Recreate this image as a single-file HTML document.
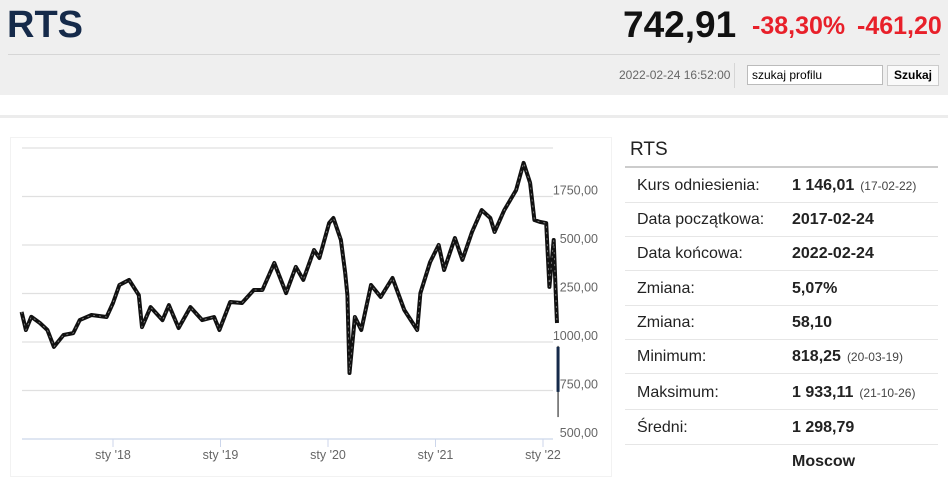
<!DOCTYPE html>
<html><head><meta charset="utf-8">
<style>
body{margin:0;width:948px;height:472px;overflow:hidden;background:#fff;font-family:"Liberation Sans",sans-serif;position:relative}
.abs{position:absolute}
#hdr{left:0;top:0;width:948px;height:95px;background:#efefef}
.row{position:absolute;left:625px;width:313px;height:34px;border-bottom:1px solid #e6e6e6}
.row .l{position:absolute;left:12px;top:9px;font-size:16px;color:#222}
.row .v{position:absolute;left:167px;top:9px;font-size:16px;font-weight:bold;color:#222}
.row .v small{font-weight:normal;font-size:12px;color:#444;margin-left:6px}
</style></head><body>
<div id="hdr" class="abs"></div>
<div class="abs" style="left:7px;top:4px;font-size:38px;font-weight:bold;color:#152a4a">RTS</div>
<div class="abs" style="left:623px;top:4px;font-size:37px;font-weight:bold;color:#111">742,91</div>
<div class="abs" style="left:752px;top:12px;font-size:25px;font-weight:bold;color:#e8202a">-38,30%</div>
<div class="abs" style="left:857px;top:12px;font-size:25px;font-weight:bold;color:#e8202a">-461,20</div>
<div class="abs" style="left:8px;top:54px;width:932px;height:1px;background:#d6d6d6"></div>
<div class="abs" style="left:619px;top:68px;font-size:12px;color:#666">2022-02-24 16:52:00</div>
<div class="abs" style="left:734px;top:63px;width:1px;height:25px;background:#d6d6d6"></div>
<div class="abs" style="left:747px;top:65px;height:20px;background:#fff;border:1px solid #bbb;font-size:12px;line-height:18px;padding-left:4px;box-sizing:border-box;width:136px">szukaj profilu</div>
<div class="abs" style="left:887px;top:65px;width:52px;height:21px;background:#fafafa;border:1px solid #ccc;box-sizing:border-box;font-size:12px;font-weight:bold;text-align:center;line-height:19px">Szukaj</div>
<div class="abs" style="left:0;top:115px;width:948px;height:3px;background:#ececec"></div>
<div class="abs" style="left:10px;top:137px;width:602px;height:340px;border:1px solid #f2f2f2;box-sizing:border-box"></div>

<svg class="abs" style="left:0;top:0" width="620" height="472" id="chart"></svg>

<div class="abs" style="left:630px;top:139px;font-size:19px;color:#222">RTS</div>
<div class="abs" style="left:625px;top:166px;width:313px;height:2px;background:#ccc"></div>
<div class="row" style="top:168px"><span class="l">Kurs odniesienia:</span><span class="v">1 146,01<small>(17-02-22)</small></span></div>
<div class="row" style="top:202px"><span class="l">Data początkowa:</span><span class="v">2017-02-24</span></div>
<div class="row" style="top:236px"><span class="l">Data końcowa:</span><span class="v">2022-02-24</span></div>
<div class="row" style="top:271px"><span class="l">Zmiana:</span><span class="v">5,07%</span></div>
<div class="row" style="top:305px"><span class="l">Zmiana:</span><span class="v">58,10</span></div>
<div class="row" style="top:339px"><span class="l">Minimum:</span><span class="v">818,25<small>(20-03-19)</small></span></div>
<div class="row" style="top:375px"><span class="l">Maksimum:</span><span class="v">1 933,11<small>(21-10-26)</small></span></div>
<div class="row" style="top:410px"><span class="l">Średni:</span><span class="v">1 298,79</span></div>
<div class="row" style="top:444px;border:none"><span class="v">Moscow</span></div>

<script>
const dates=[2017.15,2017.19,2017.24,2017.32,2017.39,2017.45,2017.54,2017.63,2017.69,2017.80,2017.94,2018.00,2018.06,2018.15,2018.24,2018.27,2018.35,2018.46,2018.52,2018.61,2018.72,2018.83,2018.94,2018.99,2019.09,2019.20,2019.31,2019.39,2019.50,2019.61,2019.70,2019.77,2019.87,2019.92,2020.01,2020.05,2020.12,2020.16,2020.18,2020.20,2020.25,2020.31,2020.40,2020.49,2020.60,2020.71,2020.83,2020.86,2020.95,2021.03,2021.08,2021.18,2021.25,2021.34,2021.43,2021.51,2021.55,2021.64,2021.75,2021.82,2021.88,2021.92,2021.97,2022.03,2022.06,2022.10,2022.12,2022.13];
const closes=[1155,1062,1130,1098,1062,975,1036,1046,1113,1139,1129,1201,1294,1320,1242,1077,1180,1113,1190,1072,1180,1113,1129,1062,1206,1201,1268,1268,1407,1252,1387,1320,1474,1433,1613,1639,1526,1356,1242,840,1129,1062,1294,1232,1330,1165,1062,1252,1412,1500,1371,1536,1423,1567,1680,1639,1567,1680,1783,1923,1820,1629,1619,1613,1284,1526,1232,1098];
const lastCandle={date:2022.14,open:975,high:980,low:613,close:742.91};
const yTicks=[500,750,1000,1250,1500,1750,2000];
const yTickLabels=["500,00","750,00","1000,00","250,00","500,00","1750,00",""];
const xTicks=[2018,2019,2020,2021,2022];
const xTickLabels=["sty '18","sty '19","sty '20","sty '21","sty '22"];

const NS="http://www.w3.org/2000/svg";
const svg=document.getElementById('chart');
const xOf=d=>113+(d-2018)*107.5;
const yOf=v=>342-(v-1000)*48.5/250;
function mk(t,a){const e=document.createElementNS(NS,t);for(const k in a)e.setAttribute(k,a[k]);svg.appendChild(e);return e;}
yTicks.forEach((v,i)=>{
  const l=mk('line',{x1:22,x2:553,y1:yOf(v),y2:yOf(v),stroke:i==0?'#ccd6eb':'#e0e0e0','stroke-width':1.3});
  
  
  if(yTickLabels[i]){
    const t=mk('text',{x:598,y:yOf(v)-2,'text-anchor':'end','font-size':12.5,fill:'#666','font-family':'Liberation Sans, sans-serif'});
    t.textContent=yTickLabels[i];
    
    
  }
});
xTicks.forEach((d,i)=>{
  const tk=mk('line',{x1:xOf(d),x2:xOf(d),y1:439,y2:447,stroke:'#ccd6eb'});
  
  
  const t=mk('text',{x:xOf(d),y:459,'text-anchor':'middle','font-size':12.5,fill:'#666','font-family':'Liberation Sans, sans-serif'});
  t.textContent=xTickLabels[i];
  
  
});
const pts=dates.map((d,i)=>xOf(d).toFixed(1)+','+yOf(closes[i]).toFixed(1)).join(' ');
const pl=mk('polyline',{points:pts,fill:'none',stroke:'#111','stroke-width':4,'stroke-linejoin':'round'});


const pl2=mk('polyline',{points:pts,fill:'none',stroke:'#888','stroke-width':0.8,'stroke-dasharray':'2 4'});


const cx=xOf(lastCandle.date);
const wk=mk('line',{x1:cx,x2:cx,y1:yOf(lastCandle.high),y2:yOf(lastCandle.low),stroke:'#111','stroke-width':1});


const bd=mk('rect',{x:cx-1.5,y:yOf(lastCandle.open),width:3,height:yOf(lastCandle.close)-yOf(lastCandle.open),fill:'#152a4a'});


</script>
</body></html>
